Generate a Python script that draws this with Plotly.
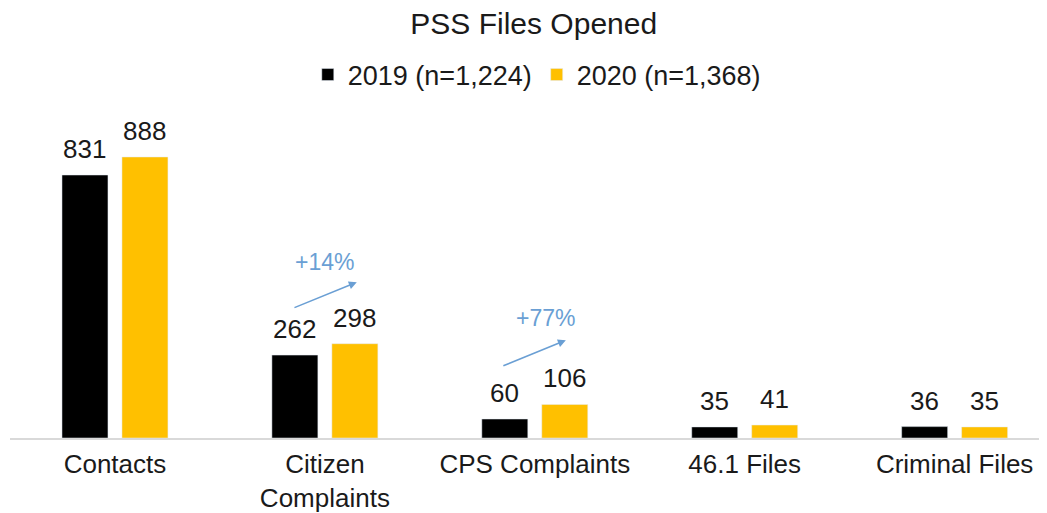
import plotly.graph_objects as go

categories = ["Contacts", "Citizen<br>Complaints", "CPS Complaints", "46.1 Files", "Criminal Files"]
values_2019 = [831, 262, 60, 35, 36]
values_2020 = [888, 298, 106, 41, 35]
series_names = ["2019 (n=1,224)", "2020 (n=1,368)"]
colors = ["#000000", "#FFC000"]
changes = [(1, "+14%"), (2, "+77%")]

FONT = "Liberation Sans, Arial, sans-serif"
TXT = "#1a1a1a"
BARGAP = 0.4286
OFFSET = (1 - BARGAP) / 4  # centre offset of each bar in a group

fig = go.Figure()
for name, vals, col in zip(series_names, [values_2019, values_2020], colors):
    fig.add_trace(go.Bar(
        x=list(range(len(categories))), y=vals, name=name, marker_color=col,
    ))

# value labels above bars
for k, vals in enumerate([values_2019, values_2020]):
    sign = -1 if k == 0 else 1
    for i, v in enumerate(vals):
        fig.add_annotation(x=i + sign * OFFSET, y=v, text=str(v), showarrow=False,
                           xref="x", yref="y", yanchor="bottom", yshift=9,
                           font=dict(size=26, color=TXT, family=FONT))

# growth arrows (placement relative to the taller bar of the group)
arrow_col = "#6A9FD4"
arrow_place = {1: (-0.152, 112, 0.152, 194, 0.0, 258),
               2: (-0.157, 120, 0.148, 203, 0.052, 274)}
for idx, label in changes:
    base = max(values_2019[idx], values_2020[idx])
    tx, ty, hx, hy, lx, ly = arrow_place[idx]
    fig.add_annotation(x=idx + hx, y=base + hy, ax=idx + tx, ay=base + ty,
                       xref="x", yref="y", axref="x", ayref="y",
                       showarrow=True, arrowhead=2, arrowsize=1, arrowwidth=1.6,
                       arrowcolor=arrow_col, text="")
    fig.add_annotation(x=idx + lx, y=base + ly, text=label, showarrow=False,
                       xref="x", yref="y",
                       font=dict(size=23, color=arrow_col, family=FONT))

# page body has an 8px margin: the figure is sized/positioned to compensate
fig.update_layout(
    width=1039, height=505,
    margin=dict(l=2, r=0, t=92, b=75),
    paper_bgcolor="white", plot_bgcolor="white",
    barmode="group", bargap=BARGAP, bargroupgap=0.233,
    title=dict(text="PSS Files Opened", x=0.506, xanchor="center", y=0.97, yanchor="middle",
               font=dict(size=30, color=TXT, family=FONT)),
    legend=dict(orientation="h", x=0.508, xanchor="center", y=1.074, yanchor="middle",
                font=dict(size=27, color=TXT, family=FONT), itemwidth=30,
                traceorder="normal"),
    font=dict(family=FONT, color=TXT),
    showlegend=True,
)
fig.update_xaxes(
    tickmode="array", tickvals=list(range(len(categories))), ticktext=categories,
    range=[-0.5, 4.44], showline=True, linecolor="#D9D9D9", linewidth=1.5,
    showgrid=False, zeroline=False, ticks="outside", ticklen=2, tickcolor="rgba(0,0,0,0)",
    tickfont=dict(size=26, color=TXT, family=FONT), automargin=False,
)
fig.update_yaxes(range=[0, 1068], visible=False, showgrid=False, zeroline=False)

fig.write_html("out.html")
